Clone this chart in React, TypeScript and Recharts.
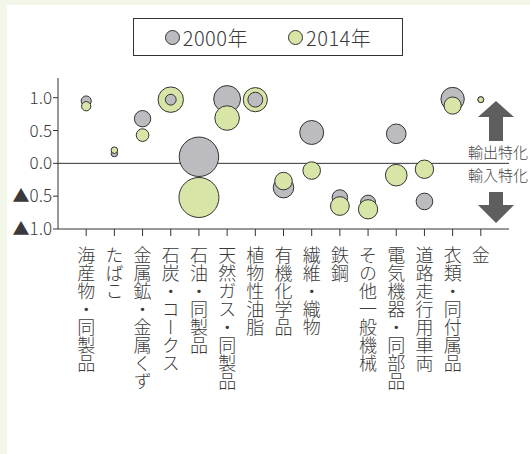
import React from 'react'
import {
  ScatterChart,
  Scatter,
  XAxis,
  YAxis,
  ZAxis,
  ReferenceLine,
} from 'recharts'

const categories = [
  '海産物・同製品',
  'たばこ',
  '金属鉱・金属くず',
  '石炭・コークス',
  '石油・同製品',
  '天然ガス・同製品',
  '植物性油脂',
  '有機化学品',
  '繊維・織物',
  '鉄鋼',
  'その他一般機械',
  '電気機器・同部品',
  '道路走行用車両',
  '衣類・同付属品',
  '金',
]

// 特化係数
const index2000 = [0.95, 0.15, 0.68, 0.97, 0.1, 0.98, 0.97, -0.37, 0.47, -0.52, -0.6, 0.45, -0.58, 0.98, 0.97]
const index2014 = [0.87, 0.2, 0.43, 0.97, -0.52, 0.69, 0.97, -0.27, -0.11, -0.65, -0.7, -0.18, -0.09, 0.88, 0.97]

// 貿易額（バブルの面積）
const size2000 = [33, 14, 87, 38, 506, 235, 72, 137, 187, 78, 75, 125, 90, 177, 11]
const size2014 = [28, 14, 52, 210, 520, 196, 190, 100, 100, 114, 121, 152, 110, 96, 11]

const yTicks = [-1, -0.5, 0, 0.5, 1]
const xTicks = categories.map((_, i) => i + 1)

const data2000 = categories.map((name, i) => ({ name, x: i + 1, y: index2000[i], z: size2000[i] }))
const data2014 = categories.map((name, i) => ({ name, x: i + 1, y: index2014[i], z: size2014[i] }))
// 2014年の円の中に収まる2000年の円は手前に描く
const nested2000 = data2000.filter((d, i) => size2014[i] > d.z && Math.abs(index2014[i] - d.y) < 0.05)

const GRAY = '#bbbbc0'
const GREEN = '#d7e6a6'
const INK = '#333333'
const TEXT = '#3a3a3a'
const FONT = '"Noto Sans CJK JP", "Noto Sans", sans-serif'

const yFormatter = (v: number) => (v < 0 ? '▲' + Math.abs(v).toFixed(1) : v.toFixed(1))

function CategoryTick(props: any) {
  const { x, y, payload } = props
  return (
    <text
      x={x}
      y={y + 8}
      fill={TEXT}
      fontSize={18}
      fontWeight={300}
      fontFamily={FONT}
      style={{ writingMode: 'vertical-rl' }}
    >
      {categories[payload.value - 1]}
    </text>
  )
}

function LegendBox() {
  const item = (color: string, label: string) => (
    <span style={{ display: 'inline-flex', alignItems: 'center', margin: '0 20px' }}>
      <span
        style={{
          width: 13,
          height: 13,
          borderRadius: '50%',
          background: color,
          border: `1px solid ${INK}`,
          marginRight: 3,
        }}
      />
      {label}
    </span>
  )
  return (
    <div
      style={{
        position: 'absolute',
        left: 133,
        top: 18,
        width: 268,
        height: 36,
        border: `1px solid ${INK}`,
        display: 'flex',
        alignItems: 'center',
        justifyContent: 'center',
        fontFamily: FONT,
        fontSize: 20,
        fontWeight: 300,
        letterSpacing: 0.5,
        color: TEXT,
        background: '#fff',
      }}
    >
      {item(GRAY, '2000年')}
      {item(GREEN, '2014年')}
    </div>
  )
}

function SideNote() {
  return (
    <svg style={{ position: 'absolute', left: 0, top: 0 }} width={530} height={454}>
      <polygon points="496,101 514,117 503,117 503,141 489,141 489,117 478,117" fill="#5e5e5e" />
      <polygon points="496,223 514,205 503,205 503,192 489,192 489,205 478,205" fill="#5e5e5e" />
      <text x={468} y={158} fontSize={15} fontWeight={300} fill="#444" fontFamily={FONT}>輸出特化</text>
      <text x={468} y={181} fontSize={15} fontWeight={300} fill="#444" fontFamily={FONT}>輸入特化</text>
    </svg>
  )
}

export default function App() {
  return (
    <div style={{ position: 'absolute', left: 0, top: 0, width: 530, height: 454, background: '#f3f7e9' }}>
      <div style={{ position: 'absolute', left: 7, top: 5, right: 0, bottom: 0, background: '#fff' }} />
      <div style={{ position: 'absolute', left: 0, top: 0 }}>
        <ScatterChart width={530} height={454} margin={{ top: 78, right: 21, left: 8, bottom: 25 }}>
          <XAxis
            type="number"
            dataKey="x"
            domain={[0, 16]}
            ticks={xTicks}
            interval={0}
            tick={<CategoryTick />}
            tickSize={7}
            height={200}
            stroke={INK}
            axisLine={{ stroke: INK }}
            tickLine={{ stroke: INK }}
          />
          <YAxis
            type="number"
            dataKey="y"
            domain={[-1, 1.3]}
            ticks={yTicks}
            interval={0}
            width={50}
            tickSize={5}
            tickMargin={1}
            tickFormatter={yFormatter}
            tick={{ fill: TEXT, fontSize: 17, fontWeight: 300, fontFamily: FONT }}
            stroke={INK}
          />
          <ZAxis type="number" dataKey="z" domain={[0, 400]} range={[0, 400 * Math.PI]} />
          <ReferenceLine y={0} stroke={INK} strokeWidth={1} />
          <Scatter data={data2000} fill={GRAY} stroke={INK} strokeWidth={1} isAnimationActive={false} />
          <Scatter data={data2014} fill={GREEN} stroke={INK} strokeWidth={1} isAnimationActive={false} />
          <Scatter data={nested2000} fill={GRAY} stroke={INK} strokeWidth={1} isAnimationActive={false} />
        </ScatterChart>
      </div>
      <LegendBox />
      <SideNote />
    </div>
  )
}
